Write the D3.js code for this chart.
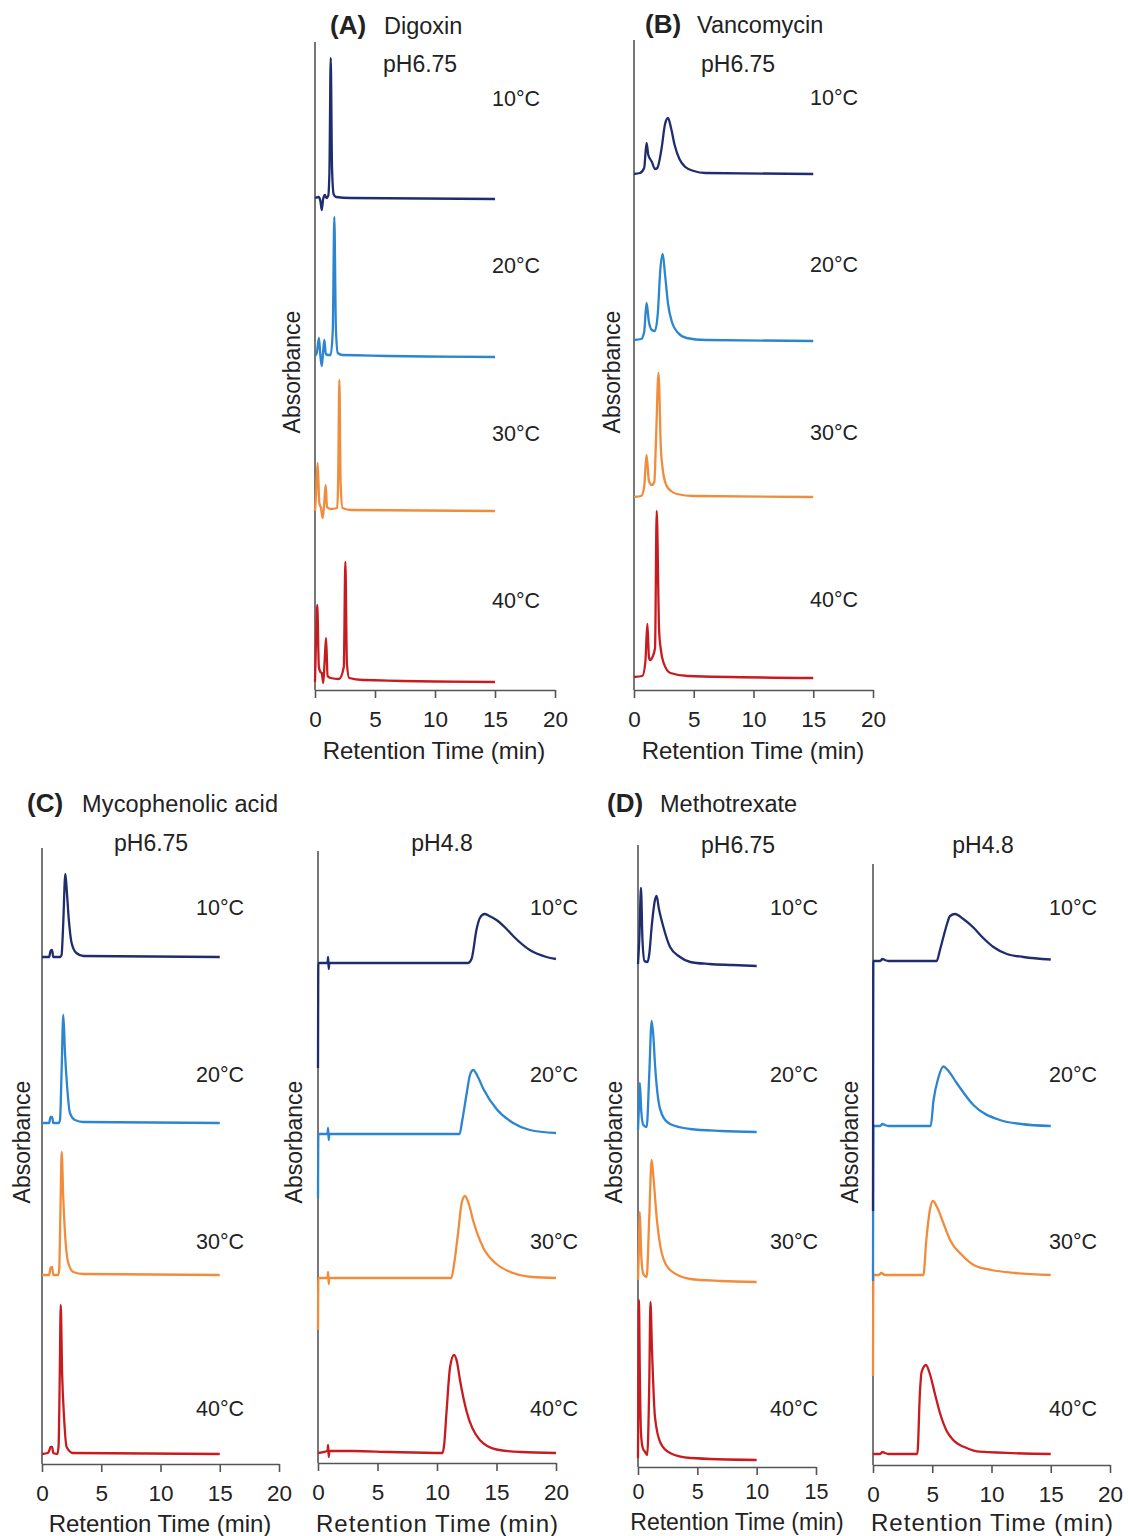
<!DOCTYPE html>
<html><head><meta charset="utf-8">
<script src="https://cdn.jsdelivr.net/npm/d3@7"></script>
<style>
body{margin:0;background:#fff}
text{font-family:"Liberation Sans",Arial,Helvetica,sans-serif;fill:#222}
</style>
</head><body><svg id="c" width="1128" height="1536"></svg>
<script>
// ---------------- DATA ----------------
const temps = ["10", "20", "30", "40"];
const tempColors = ["#1f2d6e", "#2b85d0", "#f08c3c", "#c81b1f"];
const ticks20 = [0, 5, 10, 15, 20];
const ticks15 = [0, 5, 10, 15];

// (A) Digoxin pH6.75 — [time (min), absorbance (a.u.) above baseline]
const digoxinOffsets = [492, 334, 179, 8];
const digoxin10 = [[0,0],[0.3,1],[0.45,-3],[0.56,-12],[0.68,-1],[0.83,3],[0.95,0],[1.1,2],[1.2,25],[1.31,140],[1.42,30],[1.55,4],[1.75,1],[3,0],[15,-1]];
const digoxin20 = [[0,0],[0.15,3],[0.33,18],[0.45,0],[0.56,-10],[0.67,3],[0.78,16],[0.9,2],[1.1,1],[1.3,1],[1.48,25],[1.61,139],[1.74,28],[1.9,3],[2.3,1],[15,-1]];
const digoxin30 = [[0,0],[0.08,15],[0.22,48],[0.36,8],[0.5,3],[0.64,-7],[0.76,6],[0.89,26],[1.0,4],[1.3,2],[1.85,3],[1.93,30],[2.03,131],[2.14,25],[2.3,3],[3,1],[15,0]];
const digoxin40 = [[0,0],[0.08,40],[0.19,77],[0.32,15],[0.45,10],[0.56,9],[0.69,-1],[0.8,20],[0.92,44],[1.05,6],[1.3,4],[2.0,3],[2.4,15],[2.53,120],[2.66,18],[2.85,4],[4,2],[15,0]];

// (B) Vancomycin pH6.75
const vancoOffsets = [516, 350, 193, 13];
const vanco10 = [[0,0],[0.5,1],[0.85,6],[1.05,31],[1.2,19],[1.5,12],[1.75,5],[1.95,6],[2.3,25],[2.6,50],[2.85,56],[3.1,46],[3.4,29],[3.8,15],[4.3,7],[5,3],[6,1],[15,0]];
const vanco20 = [[0,0],[0.6,1],[0.85,8],[1.05,37],[1.25,18],[1.5,10],[1.75,9],[2.0,28],[2.2,70],[2.4,86],[2.6,65],[2.85,36],[3.2,17],[3.7,7],[4.4,2],[6,0],[15,-1]];
const vanco30 = [[0,0],[0.6,1],[0.85,10],[1.05,42],[1.25,16],[1.5,12],[1.7,15],[1.85,60],[2.05,124],[2.25,48],[2.4,28],[2.7,12],[3.1,6],[3.6,3],[5,1],[15,0]];
const vanco40 = [[0,0],[0.7,1],[0.95,15],[1.12,53],[1.25,20],[1.34,17],[1.55,20],[1.76,29],[1.9,166],[2.1,47],[2.25,27],[2.48,14],[3.05,4],[4.5,1],[15,-1]];

// (C) Mycophenolic acid pH6.75
const mycoNeutralOffsets = [507, 341, 189, 10];
const mycoNeutral10 = [[0,0],[0.6,0],[0.72,6],[0.85,7],[0.95,0],[1.5,0],[1.65,2],[1.78,30],[1.97,83],[2.1,65],[2.22,44],[2.5,14],[2.9,4],[3.5,1],[15,0]];
const mycoNeutral20 = [[0,0],[0.6,0],[0.72,6],[0.85,6],[0.95,0],[1.4,0],[1.52,3],[1.65,50],[1.8,108],[1.94,70],[2.08,43],[2.36,10],[2.78,3],[3.5,1],[15,0]];
const mycoNeutral30 = [[0,0],[0.6,0],[0.72,7],[0.85,8],[0.95,0],[1.35,0],[1.45,5],[1.55,60],[1.66,123],[1.8,75],[1.94,42],[2.22,12],[2.65,3],[3.5,1],[15,0]];
const mycoNeutral40 = [[0,0],[0.5,1],[0.6,3],[0.72,7],[0.85,7],[0.95,1],[1.3,0],[1.4,8],[1.5,80],[1.58,149],[1.7,80],[1.86,37],[2.08,7],[2.6,1],[15,0]];

// (C) Mycophenolic acid pH4.8
const mycoAcidOffsets = [500, 329, 185, 10];
const mycoAcid10 = [[0,-105],[0.03,0],[0.8,0],[0.85,6],[0.9,-6],[0.95,0],[5,0],[12.6,0],[12.9,4],[13.33,34],[13.6,45],[14.0,49],[14.4,47],[15,43],[15.85,34],[16.4,27],[17.8,13],[19.2,6],[20,4]];
const mycoAcid20 = [[0,-64],[0.03,0],[0.8,0],[0.85,6],[0.9,-6],[0.95,0],[5,0],[11.9,0],[12.1,12],[12.5,41],[12.77,59],[13.05,64],[13.4,58],[13.9,45],[15,25],[16.4,11],[17.8,4],[20,1]];
const mycoAcid30 = [[0,-52],[0.03,0],[0.8,0],[0.85,6],[0.9,-6],[0.95,0],[5,0],[11.2,0],[11.45,15],[11.8,48],[12.07,75],[12.35,82],[12.7,73],[13.05,57],[13.9,30],[15,14],[16.4,5],[18,1],[20,0]];
const mycoAcid40 = [[0,0],[0.8,2],[0.85,8],[0.9,-4],[0.95,2],[3,2],[6,1],[10.45,0],[10.6,8],[10.8,41],[11.1,86],[11.43,98],[11.7,90],[11.93,73],[12.5,41],[13.6,13],[15,3.5],[17,1],[20,0]];

// (D) Methotrexate pH6.75
const mtxNeutralOffsets = [501, 335, 185, 7];
const mtxNeutral10 = [[0,2],[0.12,30],[0.25,78],[0.38,25],[0.55,5],[0.8,4],[0.95,12],[1.15,39],[1.43,66],[1.57,70],[1.75,58],[2.14,39],[2.7,19],[3.54,9],[4.4,4],[6,2],[8,1],[10,0]];
const mtxNeutral20 = [[0,2],[0.08,25],[0.15,49],[0.28,20],[0.45,7],[0.73,5],[0.95,58],[1.15,111],[1.3,95],[1.43,68],[1.71,32],[2.0,18],[2.7,8],[4.4,3],[7,1],[10,0]];
const mtxNeutral30 = [[0,2],[0.08,35],[0.15,70],[0.28,25],[0.45,8],[0.73,5],[0.95,65],[1.15,122],[1.3,105],[1.57,65],[2.0,29],[2.7,12],[4.4,3],[7,1],[10,0]];
const mtxNeutral40 = [[0,2],[0.04,100],[0.08,160],[0.15,90],[0.25,27],[0.4,12],[0.6,8],[0.78,5],[0.95,77],[1.05,158],[1.18,110],[1.43,43],[1.9,17],[2.7,7],[4.4,2],[10,0]];

// (D) Methotrexate pH4.8
const mtxAcidOffsets = [504, 339, 190, 11];
const mtxAcid10 = [[0,-250],[0.03,0],[0.6,0],[0.8,2],[1.0,1],[1.3,0],[5.37,0],[5.65,11],[5.94,24],[6.22,36],[6.5,45],[6.92,47],[7.62,42],[8.47,33.5],[9.3,23],[10.16,14],[11.3,7],[12.7,4],[15,1.5]];
const mtxAcid20 = [[0,-155],[0.03,0],[0.6,0],[0.8,2],[1.0,1],[1.3,0],[4.87,0],[5.1,25],[5.51,48],[5.94,59.5],[6.3,56],[7.06,43],[8.47,21],[10.7,6],[12.5,2],[15,0]];
const mtxAcid30 = [[0,-101],[0.03,0],[0.5,0],[0.7,2],[1.0,0],[4.25,0],[4.5,35],[4.8,65],[5.06,74],[5.4,68],[6.0,50],[6.5,35],[7.5,20],[8.5,10],[10,5],[12,2],[15,0]];
const mtxAcid40 = [[0,0],[0.6,0],[0.8,2],[1.0,1],[1.3,0],[3.74,0],[3.97,64],[4.1,82],[4.47,89],[4.8,80],[5.23,60],[5.65,41],[6.22,23],[6.77,14],[7.9,6],[9,2.3],[15,0]];

// ---------------- LAYOUT ----------------
const panels = [
  {x0:315, x1:555, xMax:20, ticks:ticks20, axisY:690, topY:42, series:[digoxin10,digoxin20,digoxin30,digoxin40], offsets:digoxinOffsets,
   tempX:492, tempY:[98,265,433,600], ph:"pH6.75", phX:383, phY:64, phAnchor:"start", yLabX:292, yLabY:372, xLabX:434, xLabY:752, xLabLen:null, tickFs:22.5, tickY:21, xLabFs:24},
  {x0:634, x1:873, xMax:20, ticks:ticks20, axisY:690, topY:40, series:[vanco10,vanco20,vanco30,vanco40], offsets:vancoOffsets,
   tempX:810, tempY:[97,264,432,599], ph:"pH6.75", phX:701, phY:64, phAnchor:"start", yLabX:612, yLabY:372, xLabX:753, xLabY:752, xLabLen:null, tickFs:22.5, tickY:21, xLabFs:24},
  {x0:42, x1:279, xMax:20, ticks:ticks20, axisY:1464, topY:848, series:[mycoNeutral10,mycoNeutral20,mycoNeutral30,mycoNeutral40], offsets:mycoNeutralOffsets,
   tempX:196, tempY:[907,1074,1241,1408], ph:"pH6.75", phX:114, phY:843, phAnchor:"start", yLabX:22, yLabY:1142, xLabX:160, xLabY:1525, xLabLen:null, tickFs:22.5, tickY:21, xLabFs:24},
  {x0:318, x1:556, xMax:20, ticks:ticks20, axisY:1463, topY:851, series:[mycoAcid10,mycoAcid20,mycoAcid30,mycoAcid40], offsets:mycoAcidOffsets,
   tempX:530, tempY:[907,1074,1241,1408], ph:"pH4.8", phX:442, phY:843, phAnchor:"middle", yLabX:294, yLabY:1142, xLabX:437, xLabY:1525, xLabLen:242, tickFs:22.5, tickY:21, xLabFs:24},
  {x0:638, x1:816, xMax:15, ticks:ticks15, axisY:1467, topY:845, series:[mtxNeutral10,mtxNeutral20,mtxNeutral30,mtxNeutral40], offsets:mtxNeutralOffsets,
   tempX:770, tempY:[907,1074,1241,1408], ph:"pH6.75", phX:701, phY:845, phAnchor:"start", yLabX:614, yLabY:1142, xLabX:737, xLabY:1523, xLabLen:null, tickFs:21.5, tickY:17, xLabFs:23},
  {x0:873, x1:1110, xMax:20, ticks:ticks20, axisY:1465, topY:864, series:[mtxAcid10,mtxAcid20,mtxAcid30,mtxAcid40], offsets:mtxAcidOffsets,
   tempX:1049, tempY:[907,1074,1241,1408], ph:"pH4.8", phX:983, phY:845, phAnchor:"middle", yLabX:850, yLabY:1142, xLabX:992, xLabY:1524, xLabLen:242, tickFs:22.5, tickY:21, xLabFs:24}
];
const titles = [
  {tag:"(A)", name:"Digoxin", x:330, nameX:384, y:34, len:null},
  {tag:"(B)", name:"Vancomycin", x:645, nameX:697, y:33, len:null},
  {tag:"(C)", name:"Mycophenolic acid", x:27, nameX:82, y:812, len:196},
  {tag:"(D)", name:"Methotrexate", x:607, nameX:660, y:812, len:null}
];

const axisColor = "#555";
const FONT = '"Liberation Sans",Arial,Helvetica,sans-serif';
const svg = d3.select("#c");

titles.forEach(t => {
  svg.append("text").attr("x", t.x).attr("y", t.y).attr("font-size", 26).attr("font-weight", "bold").text(t.tag);
  const n = svg.append("text").attr("x", t.nameX).attr("y", t.y).attr("font-size", 23.5).text(t.name);
  if (t.len) n.attr("textLength", t.len).attr("lengthAdjust", "spacing");
});

panels.forEach(p => {
  const x = d3.scaleLinear().domain([0, p.xMax]).range([p.x0, p.x1]);
  const y = d3.scaleLinear().domain([0, p.axisY - p.topY]).range([p.axisY, p.topY]);
  const g = svg.append("g");

  // y axis (line only)
  g.append("line").attr("x1", x(0)).attr("x2", x(0)).attr("y1", y(0)).attr("y2", y(p.axisY - p.topY))
    .attr("stroke", axisColor).attr("stroke-width", 1.6);

  // x axis
  const ax = g.append("g").attr("transform", `translate(0,${p.axisY})`)
    .call(d3.axisBottom(x).tickValues(p.ticks).tickSize(8).tickSizeOuter(0));
  ax.attr("font-family", FONT).attr("font-size", p.tickFs);
  ax.select(".domain").attr("stroke", axisColor).attr("stroke-width", 1.6);
  ax.selectAll(".tick line").attr("stroke", axisColor).attr("stroke-width", 1.6);
  ax.selectAll(".tick text").attr("y", p.tickY).attr("fill", "#222");

  // traces (draw 40°C first so 10°C is on top)
  for (let i = p.series.length - 1; i >= 0; i--) {
    const off = p.offsets[i];
    const line = d3.line().x(d => x(d[0])).y(d => y(d[1] + off)).curve(d3.curveMonotoneX);
    g.append("path").datum(p.series[i]).attr("d", line)
      .attr("fill", "none").attr("stroke", tempColors[i]).attr("stroke-width", 2.3)
      .attr("stroke-linejoin", "round");
  }

  // temperature labels
  temps.forEach((t, i) => {
    g.append("text").attr("x", p.tempX).attr("y", p.tempY[i] + 7.5).attr("font-size", 21.5).text(t + "°C");
  });

  // pH label
  g.append("text").attr("x", p.phX).attr("y", p.phY + 8).attr("text-anchor", p.phAnchor).attr("font-size", 23).text(p.ph);

  // axis labels
  g.append("text").attr("transform", `translate(${p.yLabX + 8},${p.yLabY}) rotate(-90)`)
    .attr("text-anchor", "middle").attr("font-size", 23).text("Absorbance");
  const xl = g.append("text").attr("x", p.xLabX).attr("y", p.xLabY + 7).attr("text-anchor", "middle").attr("font-size", p.xLabFs).text("Retention Time (min)");
  if (p.xLabLen) xl.attr("textLength", p.xLabLen).attr("lengthAdjust", "spacing");
});
</script>
</body></html>
